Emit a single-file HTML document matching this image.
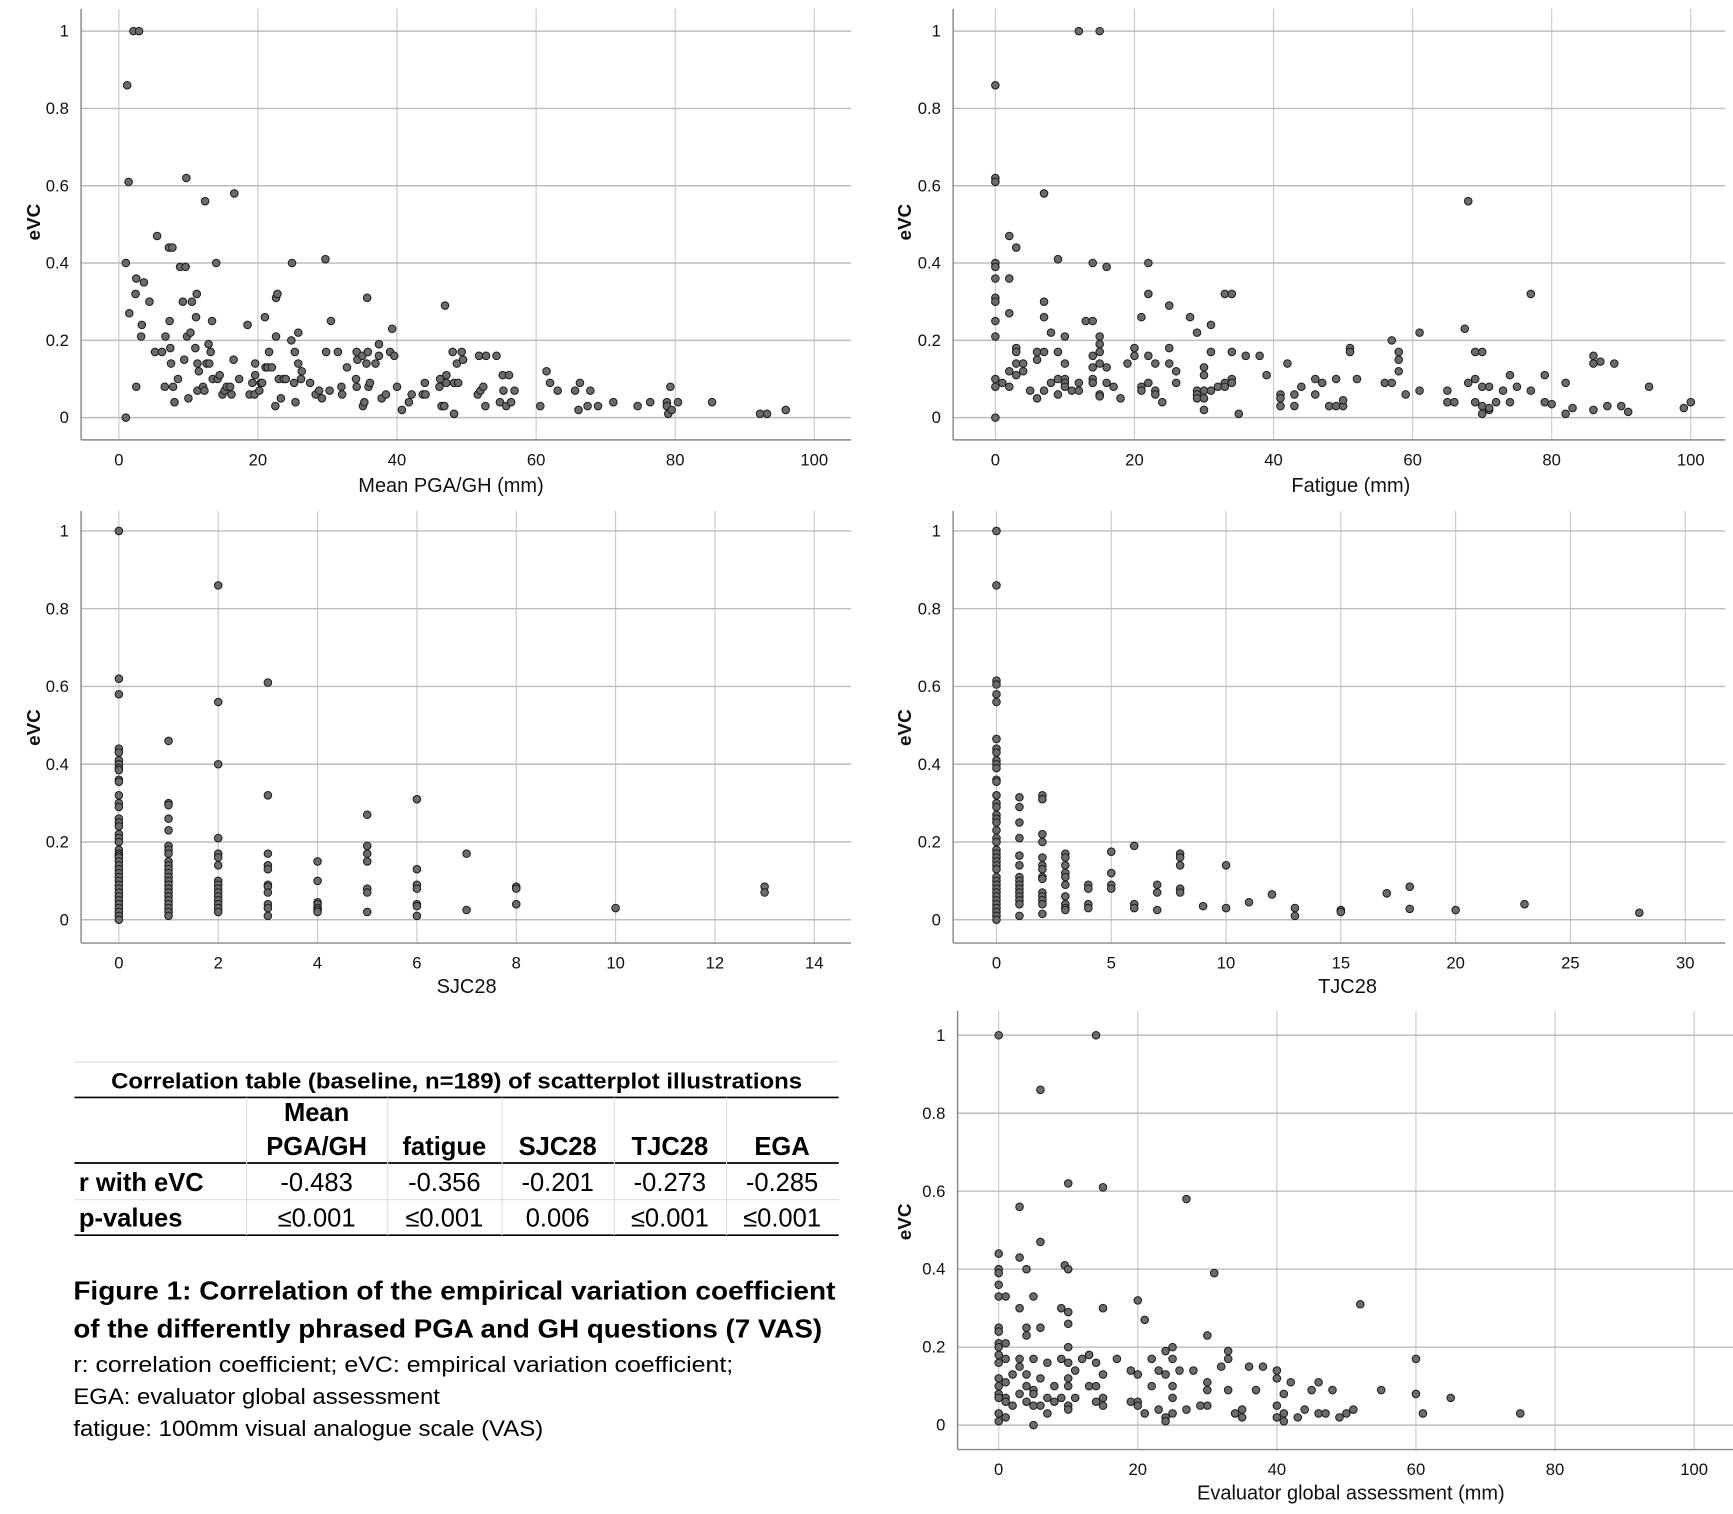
<!DOCTYPE html>
<html><head><meta charset="utf-8"><style>
html,body{margin:0;padding:0;background:#fff;}
svg{display:block;font-family:"Liberation Sans",sans-serif;}
</style></head><body>
<svg id="fig" width="1733" height="1514" viewBox="0 0 1560 1363" preserveAspectRatio="none" xmlns="http://www.w3.org/2000/svg">
<g id="tableg">
<text x="411" y="980" text-anchor="middle" font-weight="bold" font-size="20" textLength="622" lengthAdjust="spacingAndGlyphs">Correlation table (baseline, n=189) of scatterplot illustrations</text>
<line x1="67" y1="956" x2="755" y2="956" stroke="#ddd" stroke-width="1"/>
<line x1="67" y1="988" x2="755" y2="988" stroke="#000" stroke-width="1.5"/>
<line x1="67" y1="1047" x2="755" y2="1047" stroke="#000" stroke-width="1.5"/>
<line x1="67" y1="1080" x2="755" y2="1080" stroke="#ddd" stroke-width="1"/>
<line x1="67" y1="1112" x2="755" y2="1112" stroke="#000" stroke-width="1.5"/>
<g stroke="#ddd" stroke-width="1">
<line x1="222" y1="988" x2="222" y2="1112"/><line x1="349" y1="988" x2="349" y2="1112"/><line x1="452" y1="988" x2="452" y2="1112"/><line x1="553" y1="988" x2="553" y2="1112"/><line x1="654" y1="988" x2="654" y2="1112"/>
</g>
<g font-weight="bold" font-size="23" text-anchor="middle">
<text x="285" y="1009">Mean</text>
<text x="285" y="1040">PGA/GH</text><text x="400" y="1040">fatigue</text><text x="502" y="1040">SJC28</text><text x="603" y="1040">TJC28</text><text x="704" y="1040">EGA</text>
<text x="71" y="1072" text-anchor="start">r with eVC</text>
<text x="71" y="1104" text-anchor="start">p-values</text>
</g>
<g font-size="23" text-anchor="middle">
<text x="285" y="1072">-0.483</text><text x="400" y="1072">-0.356</text><text x="502" y="1072">-0.201</text><text x="603" y="1072">-0.273</text><text x="704" y="1072">-0.285</text>
<text x="285" y="1104">≤0.001</text><text x="400" y="1104">≤0.001</text><text x="502" y="1104">0.006</text><text x="603" y="1104">≤0.001</text><text x="704" y="1104">≤0.001</text>
</g>
</g>
<g>
<text x="66" y="1170" font-weight="bold" font-size="23" textLength="686" lengthAdjust="spacingAndGlyphs">Figure 1: Correlation of the empirical variation coefficient</text>
<text x="66" y="1204" font-weight="bold" font-size="23" textLength="674" lengthAdjust="spacingAndGlyphs">of the differently phrased PGA and GH questions (7 VAS)</text>
<text x="66" y="1235" font-size="20" textLength="594" lengthAdjust="spacingAndGlyphs">r: correlation coefficient; eVC: empirical variation coefficient;</text>
<text x="66" y="1264" font-size="20" textLength="330" lengthAdjust="spacingAndGlyphs">EGA: evaluator global assessment</text>
<text x="66" y="1293" font-size="20" textLength="423" lengthAdjust="spacingAndGlyphs">fatigue: 100mm visual analogue scale (VAS)</text>
</g>
</svg>
<script>
const pgaX=[1.0,1.2,1.4,2.1,2.9,1.0,1.5,2.4,2.5,2.5,3.6,3.3,3.2,4.4,5.2,5.5,6.2,6.7,6.6,7.2,7.7,7.3,7.4,7.5,7.8,8.0,8.5,8.8,9.2,9.6,9.7,9.4,9.8,10.0,10.3,10.5,11.0,11.1,11.2,11.3,11.5,11.3,12.1,12.3,12.4,12.6,12.9,13.0,13.2,13.4,13.5,14.0,14.2,14.5,14.9,15.2,15.5,16.0,16.2,16.5,16.6,17.3,18.5,18.8,19.2,19.5,19.6,19.6,20.2,20.4,20.6,21.0,21.1,21.4,21.6,22.0,22.5,22.6,22.8,22.6,23.0,23.3,23.7,24.0,24.8,24.9,25.2,25.3,25.4,25.8,25.8,26.2,26.3,27.5,28.3,28.8,29.2,29.7,29.8,30.3,30.5,31.5,32.0,32.1,32.8,34.2,34.1,34.2,34.3,35.0,35.1,35.3,35.6,35.7,35.8,35.9,36.1,36.9,37.4,37.4,37.8,38.4,39.0,39.3,39.6,40.0,40.7,41.7,42.1,43.7,44.0,44.1,46.1,46.2,46.4,46.8,46.9,47.1,47.1,48.0,48.2,48.2,48.6,48.8,49.3,49.5,51.6,51.8,52.0,52.4,52.7,52.8,54.3,54.8,55.2,55.3,55.7,56.1,56.4,56.9,60.6,61.5,62.0,63.1,65.6,66.1,66.3,67.4,67.8,68.9,71.1,74.6,76.4,78.8,78.8,79.0,79.3,79.5,80.4,85.3,92.2,93.2,95.9];
const pgaY=[0.40,0.86,0.61,1.0,1.0,0.0,0.27,0.32,0.36,0.08,0.35,0.24,0.21,0.30,0.17,0.47,0.17,0.21,0.08,0.44,0.44,0.25,0.18,0.14,0.08,0.04,0.10,0.39,0.30,0.39,0.62,0.15,0.21,0.05,0.22,0.30,0.18,0.26,0.32,0.14,0.12,0.07,0.08,0.07,0.56,0.14,0.19,0.14,0.17,0.25,0.10,0.40,0.10,0.11,0.06,0.07,0.08,0.08,0.06,0.15,0.58,0.10,0.24,0.06,0.09,0.06,0.14,0.11,0.07,0.09,0.09,0.26,0.13,0.13,0.17,0.13,0.03,0.31,0.32,0.21,0.10,0.05,0.10,0.10,0.20,0.40,0.09,0.17,0.04,0.22,0.14,0.10,0.12,0.09,0.06,0.07,0.05,0.41,0.17,0.07,0.25,0.17,0.08,0.06,0.13,0.17,0.10,0.08,0.15,0.16,0.03,0.04,0.14,0.31,0.17,0.08,0.09,0.14,0.19,0.16,0.05,0.06,0.17,0.23,0.16,0.08,0.02,0.04,0.06,0.06,0.09,0.06,0.08,0.10,0.03,0.03,0.29,0.11,0.09,0.17,0.01,0.09,0.14,0.09,0.17,0.15,0.06,0.16,0.07,0.08,0.03,0.16,0.16,0.04,0.11,0.07,0.03,0.11,0.04,0.07,0.03,0.12,0.09,0.07,0.07,0.02,0.09,0.03,0.07,0.03,0.04,0.03,0.04,0.04,0.03,0.01,0.08,0.02,0.04,0.04,0.01,0.01,0.02];
const fatX=[0,0,0,0,0,0,0,0,0,0,0,0,0,1,2,2,2,2,2,3,3,3,3,3,4,4,5,6,6,6,7,7,7,7,7,8,8,9,9,9,9,10,10,10,10,10,11,12,12,12,13,14,14,14,14,14,14,15,15,15,15,15,15,15,16,16,16,17,18,19,20,20,21,21,21,22,22,22,22,23,23,23,24,25,25,25,26,26,28,29,29,29,29,30,30,30,30,30,31,31,31,32,33,33,33,34,34,34,34,35,36,38,39,41,41,41,42,43,43,44,46,46,47,48,49,49,50,50,51,51,52,56,57,57,58,58,58,59,61,61,65,65,66,67.5,68,68,69,69,69,70,70,70,70,71,71,71,72,73,74,74,75,77,77,79,79,80,82,82,83,86,86,86,87,88,89,90,91,94,99,100];
const fatY=[0.86,0.62,0.61,0.40,0.39,0.36,0.31,0.30,0.25,0.21,0.10,0.08,0.0,0.09,0.47,0.36,0.27,0.12,0.08,0.44,0.18,0.17,0.14,0.11,0.14,0.12,0.07,0.17,0.15,0.05,0.58,0.30,0.26,0.17,0.07,0.22,0.09,0.41,0.17,0.10,0.06,0.21,0.14,0.10,0.09,0.08,0.07,0.09,0.07,1.0,0.25,0.25,0.40,0.16,0.13,0.10,0.09,1.0,0.21,0.19,0.17,0.14,0.06,0.055,0.39,0.13,0.09,0.08,0.05,0.14,0.18,0.16,0.26,0.08,0.07,0.40,0.32,0.16,0.09,0.14,0.07,0.06,0.04,0.29,0.18,0.14,0.12,0.09,0.26,0.22,0.07,0.06,0.05,0.13,0.11,0.07,0.05,0.02,0.24,0.17,0.07,0.08,0.32,0.09,0.08,0.32,0.17,0.10,0.09,0.01,0.16,0.16,0.11,0.06,0.05,0.03,0.14,0.06,0.03,0.08,0.10,0.06,0.09,0.03,0.03,0.10,0.03,0.045,0.18,0.17,0.10,0.09,0.20,0.09,0.17,0.15,0.12,0.06,0.22,0.07,0.07,0.04,0.04,0.23,0.56,0.09,0.17,0.10,0.04,0.17,0.08,0.03,0.01,0.08,0.02,0.025,0.04,0.07,0.11,0.04,0.08,0.32,0.07,0.11,0.04,0.035,0.09,0.01,0.025,0.16,0.14,0.02,0.145,0.03,0.14,0.03,0.015,0.08,0.025,0.04];
const sjcX=[0,0,0,0,0,0,0,0,0,0,0,0,0,0,0,0,0,0,0,0,0,0,0,0,0,0,0,0,0,0,0,0,0,0,0,0,0,0,0,0,1,1,1,1,1,1,1,1,1,1,1,1,1,1,1,1,1,1,1,1,1,1,1,2,2,2,2,2,2,2,2,2,2,2,2,2,2,2,2,3,3,3,3,3,3,3,3,3,3,3,4,4,4,4,4,4,4,5,5,5,5,5,5,5,6,6,6,6,6,6,6,7,7,8,8,8,10,13,13];
const sjcY=[1.0,0.62,0.58,0.44,0.43,0.41,0.40,0.39,0.385,0.36,0.355,0.32,0.30,0.29,0.26,0.25,0.24,0.22,0.21,0.20,0.18,0.17,0.165,0.16,0.15,0.14,0.13,0.12,0.11,0.10,0.09,0.08,0.07,0.06,0.05,0.04,0.03,0.02,0.01,0.0,0.46,0.30,0.295,0.26,0.23,0.19,0.18,0.17,0.15,0.14,0.13,0.12,0.11,0.10,0.09,0.08,0.07,0.06,0.05,0.04,0.03,0.02,0.01,0.86,0.56,0.40,0.21,0.17,0.16,0.14,0.10,0.09,0.08,0.07,0.06,0.05,0.04,0.03,0.02,0.61,0.32,0.17,0.14,0.13,0.09,0.085,0.07,0.04,0.03,0.01,0.15,0.10,0.045,0.04,0.03,0.025,0.02,0.27,0.19,0.17,0.15,0.08,0.07,0.02,0.31,0.13,0.09,0.08,0.04,0.035,0.01,0.17,0.025,0.085,0.08,0.04,0.03,0.085,0.07];
const tjcX=[0,0,0,0,0,0,0,0,0,0,0,0,0,0,0,0,0,0,0,0,0,0,0,0,0,0,0,0,0,0,0,0,0,0,0,0,0,0,0,0,0,1,1,1,1,1,1,1,1,1,1,1,1,1,1,1,2,2,2,2,2,2,2,2,2,2,2,2,2,2,3,3,3,3,3,3,3,3,3,3,4,4,4,4,5,5,5,5,6,6,6,7,7,7,8,8,8,8,8,9,10,10,11,12,13,13,15,15,17,18,18,20,23,28];
const tjcY=[1.0,0.86,0.615,0.605,0.58,0.56,0.465,0.44,0.43,0.41,0.40,0.39,0.36,0.355,0.32,0.30,0.29,0.27,0.26,0.25,0.23,0.21,0.20,0.18,0.17,0.16,0.15,0.14,0.13,0.11,0.10,0.09,0.08,0.07,0.06,0.05,0.04,0.03,0.02,0.01,0.0,0.315,0.29,0.25,0.21,0.165,0.14,0.11,0.10,0.09,0.08,0.07,0.06,0.05,0.04,0.01,0.32,0.31,0.22,0.20,0.16,0.14,0.13,0.11,0.105,0.07,0.06,0.05,0.04,0.015,0.17,0.16,0.14,0.12,0.11,0.09,0.06,0.04,0.03,0.025,0.09,0.08,0.04,0.03,0.175,0.12,0.09,0.08,0.19,0.04,0.03,0.09,0.07,0.025,0.17,0.16,0.14,0.08,0.07,0.035,0.14,0.03,0.045,0.065,0.03,0.01,0.025,0.02,0.068,0.085,0.028,0.025,0.04,0.018];
const egaX=[0,14,6,10,15,27,3,6,0,3,0,0,4,9.5,10,31,0,0,1,5,20,52,3,9,15,10,21,0,0,4,6,10,4,30,0,1,0,10,24,25,33,0,1,3,5,9,10,12,13,14,17,22,25,33,36,60,0,3,7,11,19,23,26,28,32,38,40,0,2,4,6,10,15,20,24,30,40,42,46,0,1,4,5,8,10,13,14,22,25,30,33,37,41,45,48,55,60,65,0,1,3,5,7,9,11,15,19,20,25,30,40,44,0,1,2,4,6,8,10,14,20,23,27,29,35,41,46,50,51,0,1,5,7,10,15,21,24,25,34,35,40,41,43,47,49,61,75,5,0,24];
const egaY=[1.0,1.0,0.86,0.62,0.61,0.58,0.56,0.47,0.44,0.43,0.40,0.39,0.40,0.41,0.40,0.39,0.36,0.33,0.33,0.33,0.32,0.31,0.30,0.30,0.30,0.29,0.27,0.25,0.24,0.25,0.25,0.26,0.23,0.23,0.21,0.21,0.20,0.20,0.19,0.20,0.19,0.18,0.17,0.17,0.17,0.17,0.16,0.17,0.18,0.16,0.17,0.17,0.17,0.17,0.15,0.17,0.16,0.15,0.16,0.14,0.14,0.14,0.14,0.14,0.15,0.15,0.14,0.12,0.13,0.13,0.12,0.12,0.13,0.13,0.13,0.11,0.12,0.11,0.11,0.10,0.11,0.10,0.09,0.10,0.10,0.10,0.10,0.10,0.10,0.09,0.09,0.09,0.08,0.09,0.09,0.09,0.08,0.07,0.08,0.07,0.08,0.08,0.07,0.07,0.07,0.07,0.06,0.06,0.07,0.05,0.05,0.04,0.07,0.06,0.05,0.06,0.05,0.06,0.05,0.06,0.05,0.04,0.04,0.05,0.04,0.03,0.03,0.03,0.04,0.03,0.02,0.05,0.03,0.04,0.05,0.03,0.02,0.03,0.03,0.02,0.02,0.01,0.02,0.03,0.02,0.03,0.03,0.0,0.01,0.01];
const yTicks=[0,0.2,0.4,0.6,0.8,1];
const yTickLabels=["0","0.2","0.4","0.6","0.8","1"];
const pctTicks=[0,20,40,60,80,100];
const sjcTicks=[0,2,4,6,8,10,12,14];
const tjcTicks=[0,5,10,15,20,25,30];

const NS="http://www.w3.org/2000/svg";
const svg=document.getElementById('fig');
function mk(tag,attrs,parent){const e=document.createElementNS(NS,tag);for(const k in attrs)e.setAttribute(k,attrs[k]);(parent||svg).appendChild(e);return e;}

function panel(name,cfg,xs,ys,xTicks){
  const g=mk('g',{});
  
  
  const sx=v=>cfg.x0+(v-cfg.xmin)/(cfg.xmax-cfg.xmin)*(cfg.x1-cfg.x0);
  const sy=v=>cfg.y0+(v/1)*(cfg.y1-cfg.y0);
  xTicks.forEach(t=>{
    const l=mk('line',{x1:sx(t),x2:sx(t),y1:cfg.top,y2:cfg.bottom,stroke:'#c8c8c8','stroke-width':1},g);
    
    
    const tx=mk('text',{x:sx(t),y:cfg.bottom+23,'text-anchor':'middle','font-size':15,fill:'#111'},g);
    tx.textContent=t;
    
    
  });
  yTicks.forEach((t,i)=>{
    const l=mk('line',{x1:cfg.ax,x2:cfg.right,y1:sy(t),y2:sy(t),stroke:'#bdbdbd','stroke-width':1.3},g);
    
    
    const tx=mk('text',{x:cfg.ax-11,y:sy(t)+5,'text-anchor':'end','font-size':15,fill:'#111'},g);
    tx.textContent=yTickLabels[i];
    
    
  });
  const ya=mk('line',{x1:cfg.ax,x2:cfg.ax,y1:cfg.top,y2:cfg.bottom,stroke:'#888','stroke-width':1.3},g);
  
  
  const xa=mk('line',{x1:cfg.ax,x2:cfg.right,y1:cfg.bottom,y2:cfg.bottom,stroke:'#888','stroke-width':1.3},g);
  
  
  xs.forEach((v,i)=>{
    const c=mk('circle',{cx:sx(v),cy:sy(ys[i]),r:3.4,fill:'#6b6b6b',stroke:'#1a1a1a','stroke-width':0.9},g);
    
    
  });
  const xt=mk('text',{x:cfg.lx,y:cfg.ly,'text-anchor':'middle','font-size':18,fill:'#111'},g);
  xt.textContent=cfg.label;
  
  
  const yt=mk('text',{x:cfg.ex,y:cfg.ey,'text-anchor':'middle','font-size':17,'font-weight':'bold',fill:'#111',transform:'rotate(-90 '+cfg.ex+' '+cfg.ey+')'},g);
  yt.textContent='eVC';
  
  
}
panel('mean-pga-gh',{ax:73,right:766,top:8,bottom:396,xmin:0,xmax:100,x0:107,x1:733,y0:376,y1:28,label:'Mean PGA/GH (mm)',lx:406,ly:443,ex:36,ey:200},pgaX,pgaY,pctTicks);
panel('fatigue',{ax:858,right:1553,top:8,bottom:396,xmin:0,xmax:100,x0:896,x1:1522,y0:376,y1:28,label:'Fatigue (mm)',lx:1216,ly:443,ex:820,ey:200},fatX,fatY,pctTicks);
panel('sjc28',{ax:73,right:766,top:460,bottom:849,xmin:0,xmax:14,x0:107,x1:733,y0:828,y1:478,label:'SJC28',lx:420,ly:894,ex:36,ey:655},sjcX,sjcY,sjcTicks);
panel('tjc28',{ax:858,right:1553,top:460,bottom:849,xmin:0,xmax:30,x0:897,x1:1517,y0:828,y1:478,label:'TJC28',lx:1213,ly:894,ex:820,ey:655},tjcX,tjcY,tjcTicks);
panel('ega',{ax:862,right:1560,top:910,bottom:1305,xmin:0,xmax:100,x0:899,x1:1525,y0:1283,y1:932,label:'Evaluator global assessment (mm)',lx:1216,ly:1350,ex:820,ey:1100},egaX,egaY,pctTicks);
</script>
</body></html>
